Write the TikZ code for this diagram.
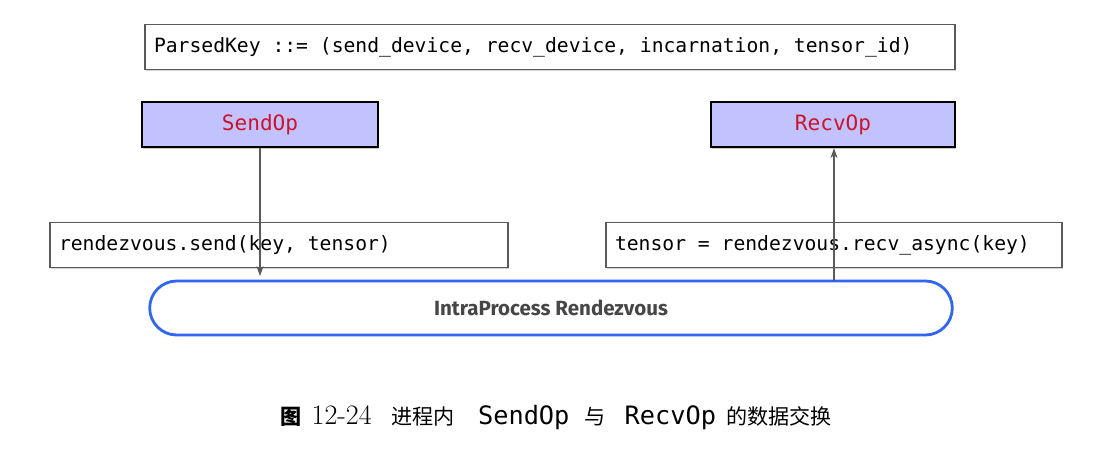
\documentclass[tikz,border=0pt]{standalone}
\usepackage{fontspec}
\setmonofont{DejaVu Sans Mono}[WordSpace={1,0,0},PunctuationSpace=WordSpace]
\newfontfamily\cjk{Noto Sans CJK SC}
\newfontfamily\rdvfont{Fira Sans}
\usepackage{tikz}
\usetikzlibrary{shapes,shadows,arrows.meta}

\definecolor{opfill}{RGB}{194,194,255}
\definecolor{opred}{RGB}{204,20,40}
\definecolor{rdvblue}{RGB}{51,102,240}
\definecolor{boxgray}{RGB}{90,90,90}
\definecolor{rdvtext}{RGB}{70,70,70}

\begin{document}
\begin{tikzpicture}[x=0.025cm,y=-0.025cm]

	\def\px{0.025cm}
	\tikzset{
		codebox/.style={rectangle,draw=boxgray,line width=1pt,fill=white,
			drop shadow={shadow xshift=1pt,shadow yshift=-1pt,opacity=0.35},
			inner xsep=9*\px,inner ysep=0pt,minimum height=45*\px,align=flush left,
			font=\ttfamily\fontsize{14}{16}\selectfont},
		opbox/.style={rectangle,draw=black,line width=1.6pt,fill=opfill,
			drop shadow={shadow xshift=1pt,shadow yshift=-1.2pt,opacity=0.4},
			minimum height=45*\px,text=opred,
			font=\ttfamily\fontsize{15}{17}\selectfont},
		msgline/.style={-{Stealth[length=7pt,width=5pt,inset=2pt]},color=boxgray,line width=0.8pt}
	}

	\useasboundingbox (0,0) rectangle (1104,468);

	\node[codebox,text width=792*\px] (key) at (550,47) {ParsedKey ::= (send\_device, recv\_device, incarnation, tensor\_id)};

	\node[opbox,minimum width=236*\px] (send) at (260,124.5) {SendOp};
	\node[opbox,minimum width=244*\px] (recv) at (833,124.5) {RecvOp};

	\node[codebox,text width=440*\px] (sendcall) at (279,245) {rendezvous.send(key, tensor)};
	\node[codebox,text width=438*\px] (recvcall) at (834,245) {tensor = rendezvous.recv\_async(key)};

	\node[rounded rectangle,draw=rdvblue,line width=2pt,minimum width=812*\px,minimum height=54*\px,
		text=rdvtext,font=\rdvfont\bfseries\fontsize{14.6}{16}\selectfont] (rdv) at (551,308) {IntraProcess Rendezvous};

	\coordinate (sendend) at (260,276);
	\coordinate (recvstart) at (834,281);
	\path[msgline] (send) edge (sendend);
	\path[msgline] (recvstart) edge (recv.south -| recvstart);

	\node[font=\fontsize{15}{18}\selectfont] (caption) at (556,418) {{\cjk\bfseries 图}\hspace{0.25cm}{\fontsize{20}{22}\selectfont 12-24}\hspace{0.5cm}{\cjk 进程内}\hspace{0.575cm}{\ttfamily\fontsize{18}{20}\selectfont SendOp}\hspace{0.375cm}{\cjk 与}\hspace{0.475cm}{\ttfamily\fontsize{18}{20}\selectfont RecvOp}\hspace{0.25cm}{\cjk 的数据交换}};

\end{tikzpicture}
\end{document}
